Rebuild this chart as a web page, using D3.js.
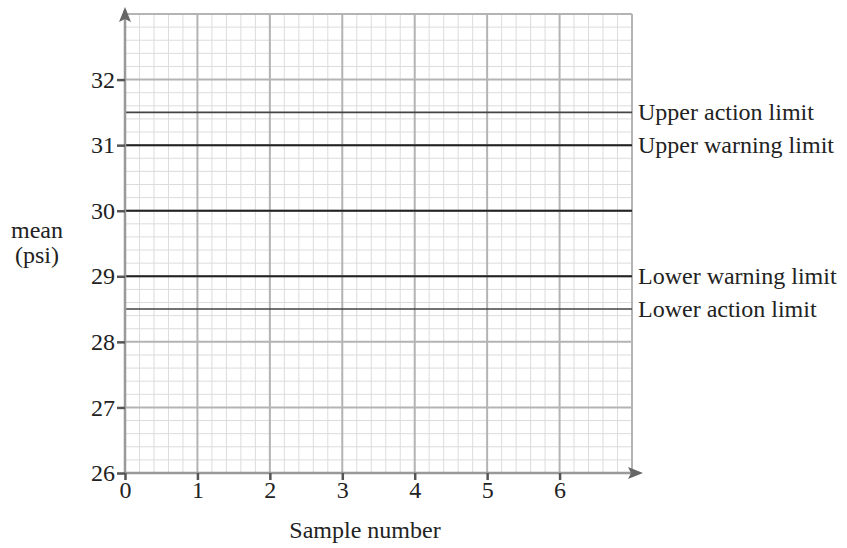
<!DOCTYPE html>
<html>
<head>
<meta charset="utf-8">
<script src="https://cdn.jsdelivr.net/npm/d3@7"></script>
<style>
  body { margin: 0; background: #fff; }
  text { font-family: "Liberation Serif", "Times New Roman", serif; fill: #222; }
</style>
</head>
<body>
<div id="vis1" style="width:847px;height:548px;"></div>
<script>
/*
Data
*/

const xTicks = [0, 1, 2, 3, 4, 5, 6];
const yTicks = [26, 27, 28, 29, 30, 31, 32];
const xDomain = [0, 7];
const yDomain = [26, 33];
const limitValues = [31.5, 31, 30, 29, 28.5];
const limitLabels = ["Upper action limit", "Upper warning limit", "", "Lower warning limit", "Lower action limit"];
const limitWeights = [1.6, 2, 2, 2, 1.6];

/*
Size constants
*/

const WIDTH = 847;
const HEIGHT = 548;
const margin = {top: 14, right: 215, bottom: 75, left: 125};
const width = WIDTH - margin.left - margin.right;
const height = HEIGHT - margin.top - margin.bottom;
const FONT = 24;

/*
Scales
*/

const x = d3.scaleLinear().domain(xDomain).range([0, width]);
const y = d3.scaleLinear().domain(yDomain).range([height, 0]);

const svg = d3.select("#vis1")
              .append("svg")
              .attr("width", WIDTH)
              .attr("height", HEIGHT);

const chart = svg.append("g")
                 .attr("transform", `translate(${margin.left}, ${margin.top})`);

// minor grid, 5 per unit
const minorX = d3.range(xDomain[0], xDomain[1] + 1e-9, 0.2);
const minorY = d3.range(yDomain[0], yDomain[1] + 1e-9, 0.2);

chart.append("g").selectAll("line")
     .data(minorX)
     .enter().append("line")
     .attr("x1", d => x(d)).attr("x2", d => x(d))
     .attr("y1", 0).attr("y2", height)
     .attr("stroke", "#dcdcdc").attr("stroke-width", 1);

chart.append("g").selectAll("line")
     .data(minorY)
     .enter().append("line")
     .attr("y1", d => y(d)).attr("y2", d => y(d))
     .attr("x1", 0).attr("x2", width)
     .attr("stroke", "#dcdcdc").attr("stroke-width", 1);

// major grid
chart.append("g").selectAll("line")
     .data(d3.range(xDomain[0], xDomain[1] + 1))
     .enter().append("line")
     .attr("x1", d => x(d)).attr("x2", d => x(d))
     .attr("y1", 0).attr("y2", height)
     .attr("stroke", "#b4b4b4").attr("stroke-width", 2);

chart.append("g").selectAll("line")
     .data(d3.range(yDomain[0], yDomain[1] + 1))
     .enter().append("line")
     .attr("y1", d => y(d)).attr("y2", d => y(d))
     .attr("x1", 0).attr("x2", width)
     .attr("stroke", "#b4b4b4").attr("stroke-width", 2);

// limit lines
chart.append("g").selectAll("line")
     .data(limitValues)
     .enter().append("line")
     .attr("x1", 0).attr("x2", width)
     .attr("y1", d => y(d)).attr("y2", d => y(d))
     .attr("stroke", (d, i) => limitWeights[i] < 2 ? "#444" : "#222")
     .attr("stroke-width", (d, i) => limitWeights[i]);

chart.append("g").selectAll("text")
     .data(limitValues)
     .enter().append("text")
     .attr("x", width + 6)
     .attr("y", d => y(d))
     .attr("dy", "0.33em")
     .attr("font-size", FONT)
     .text((d, i) => limitLabels[i]);

// axes lines
chart.append("line")
     .attr("x1", 0).attr("x2", 0).attr("y1", height).attr("y2", -4)
     .attr("stroke", "#999").attr("stroke-width", 2.5);
chart.append("line")
     .attr("x1", 0).attr("x2", width + 4).attr("y1", height).attr("y2", height)
     .attr("stroke", "#999").attr("stroke-width", 2.5);

// arrow heads
chart.append("path")
     .attr("d", `M0,-9 L-6,6 L0,3 L6,6 Z`)
     .attr("transform", `translate(0, ${y(yDomain[1]) + 2})`)
     .attr("fill", "#666");
chart.append("path")
     .attr("d", `M9,0 L-6,-6 L-3,0 L-6,6 Z`)
     .attr("transform", `translate(${x(xDomain[1]) + 2}, ${height})`)
     .attr("fill", "#666");

// y axis
const yAxis = chart.append("g")
     .call(d3.axisLeft(y).tickValues(yTicks).tickSize(8).tickPadding(2).tickFormat(d3.format("d")));
yAxis.select(".domain").remove();
yAxis.selectAll(".tick line").attr("stroke", "#555").attr("stroke-width", 2.5);
yAxis.selectAll(".tick text").attr("font-size", FONT).attr("fill", "#222")
     .attr("font-family", "Liberation Serif");

// x axis
const xAxis = chart.append("g")
     .attr("transform", `translate(0, ${height})`)
     .call(d3.axisBottom(x).tickValues(xTicks).tickSize(7).tickPadding(1).tickFormat(d3.format("d")));
xAxis.select(".domain").remove();
xAxis.selectAll(".tick line").attr("stroke", "#555").attr("stroke-width", 2.5);
xAxis.selectAll(".tick text").attr("font-size", FONT).attr("fill", "#222")
     .attr("font-family", "Liberation Serif");

// axis titles
svg.append("text")
   .attr("x", 365)
   .attr("y", 538)
   .attr("text-anchor", "middle")
   .attr("font-size", FONT)
   .text("Sample number");

svg.append("text")
   .attr("x", 37).attr("y", 238)
   .attr("text-anchor", "middle")
   .attr("font-size", FONT)
   .text("mean");
svg.append("text")
   .attr("x", 37).attr("y", 263)
   .attr("text-anchor", "middle")
   .attr("font-size", FONT)
   .text("(psi)");
</script>
</body>
</html>
